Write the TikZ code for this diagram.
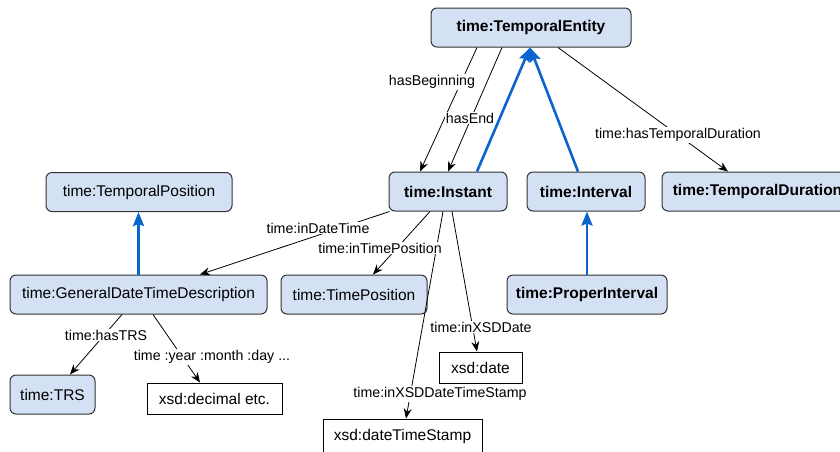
\documentclass[tikz,border=0pt]{standalone}
\usepackage{fontspec}
\setmainfont{Liberation Sans}
\usetikzlibrary{arrows.meta}
\definecolor{clsfill}{RGB}{212,225,245}
\definecolor{clsline}{RGB}{50,50,50}
\definecolor{subblue}{RGB}{10,100,205}

\begin{document}
\begin{tikzpicture}[x=1pt,y=-1pt,
    cls/.style={draw=clsline,line width=1pt,fill=clsfill,rounded corners=6pt,
      minimum height=39pt,inner sep=0pt,font=\fontsize{15.5}{18}\selectfont},
    clsb/.style={cls,font=\fontsize{15.5}{18}\selectfont\bfseries},
    lit/.style={draw=black,line width=1pt,fill=white,minimum height=31pt,
      inner sep=0pt,font=\fontsize{15.5}{18}\selectfont},
    rel/.style={draw=black,line width=0.8pt,-{Stealth[length=10pt,width=8pt]}},
    sub/.style={draw=subblue,line width=2.6pt,-{Stealth[length=14pt,width=11pt,inset=2pt]}},
    lbl/.style={fill=white,inner sep=1pt,font=\fontsize{14.2}{16}\selectfont}]
  \useasboundingbox (0,0) rectangle (840,451);

  % classes
  \node[clsb,minimum width=200pt] (ent) at (531,27.5) {time:TemporalEntity};
  \node[clsb,minimum width=118pt] (inst) at (448,191.5) {time:Instant};
  \node[clsb,minimum width=118pt] (ivl) at (586,191.5) {time:Interval};
  \node[clsb,minimum width=191pt] (dur) at (757.5,191.5) {time:TemporalDuration};
  \node[clsb,minimum width=160pt] (pint) at (587,294.5) {time:ProperInterval};
  \node[cls,minimum width=186pt] (tpos) at (139,192) {time:TemporalPosition};
  \node[cls,minimum width=257pt] (gdtd) at (138.5,294.5) {time:GeneralDateTimeDescription};
  \node[cls,minimum width=146pt] (tp) at (354,294.5) {time:TimePosition};
  \node[cls,minimum width=85pt] (trs) at (52.5,394.5) {time:TRS};

  % datatypes
  \node[lit,minimum width=135pt] (dec) at (214.5,398.5) {xsd:decimal etc.};
  \node[lit,minimum width=83pt] (date) at (480.5,367.5) {xsd:date};
  \node[lit,minimum width=159pt,minimum height=34pt] (dts) at (402.5,436) {xsd:dateTimeStamp};

  % subclass arrows
  \draw[sub] ([xshift=29pt]inst.north) -- ([xshift=-1pt]ent.south);
  \draw[sub] ([xshift=-8pt]ivl.north) -- ([xshift=-1pt]ent.south);
  \draw[sub] (gdtd.north) -- (gdtd.north |- tpos.south);
  \draw[sub] (pint.north) -- (pint.north |- ivl.south);

  % properties
  \draw[rel] ([xshift=-54pt]ent.south) -- ([xshift=-28pt]inst.north);
  \draw[rel] ([xshift=-29pt]ent.south) -- (inst.north);
  \draw[rel] ([xshift=27pt]ent.south) -- ([xshift=-29.5pt]dur.north);
  \draw[rel] ([xshift=1pt]inst.south west) -- ([xshift=61.5pt]gdtd.north);
  \draw[rel] ([xshift=-18pt]inst.south) -- ([xshift=19pt]tp.north);
  \draw[rel] ([xshift=-5pt]inst.south) -- ([xshift=3.5pt]dts.north);
  \draw[rel] ([xshift=4pt]inst.south) -- ([xshift=-3.5pt]date.north);
  \draw[rel] ([xshift=-16.5pt]gdtd.south) -- ([xshift=17.5pt]trs.north);
  \draw[rel] ([xshift=14.5pt]gdtd.south) -- ([xshift=-14.5pt]dec.north);

  % labels
  \node[lbl] (lbeg) at (432,82) {hasBeginning};
  \node[lbl] (lend) at (470,118) {hasEnd};
  \node[lbl] (ldur) at (678,135) {time:hasTemporalDuration};
  \node[lbl] (ldt) at (318,228) {time:inDateTime};
  \node[lbl] (ltp) at (380,248) {time:inTimePosition};
  \node[lbl] (lxd) at (481,327) {time:inXSDDate};
  \node[lbl] (lxdts) at (440,394) {time:inXSDDateTimeStamp};
  \node[lbl] (ltrs) at (106,335) {time:hasTRS};
  \node[lbl] (lymd) at (212,357) {time :year :month :day ...};
\end{tikzpicture}
\end{document}
